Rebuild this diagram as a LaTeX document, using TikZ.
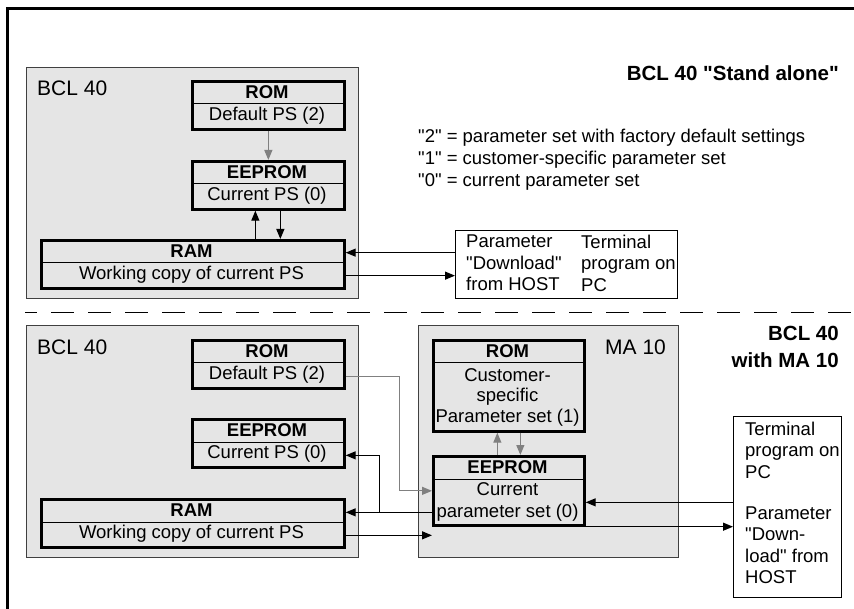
\documentclass[tikz,border=0pt]{standalone}
\usepackage{fontspec}
\setmainfont{Liberation Sans}
\newfontfamily\dgfont{Liberation Sans}
\usetikzlibrary{arrows.meta}
\tikzset{
  unit/.style={draw=black!75, line width=1.2pt, fill=gray!20, inner sep=0pt, anchor=north west},
  mem/.style={draw=black, line width=2.7pt, fill=gray!20, inner sep=0pt, anchor=north west},
  hostbox/.style={draw=black, line width=1.3pt, fill=white, inner sep=0pt, anchor=north west},
  txt/.style={font=\dgfont\fontsize{18.5}{21.5}\selectfont, inner sep=0pt},
  hdr/.style={font=\dgfont\fontsize{18.5}{21.5}\selectfont\bfseries, inner sep=0pt},
  lbl/.style={font=\dgfont\fontsize{21}{24}\selectfont, inner sep=0pt, anchor=west},
  ttl/.style={font=\dgfont\fontsize{20.5}{27}\selectfont\bfseries, inner sep=0pt, anchor=east, align=right},
  divider/.style={line width=1pt, black},
  arr/.style={line width=1.2pt, black, -{Triangle[length=10pt,width=8pt]}},
  garrow/.style={line width=1.2pt, gray, -{Triangle[length=10pt,width=8pt]}},
  dashline/.style={line width=1pt, black, dash pattern=on 23pt off 14pt, dash phase=11pt},
}
\begin{document}
\begin{tikzpicture}[x=1pt,y=-1pt]
\useasboundingbox (0,0) rectangle (854,609);
% outer frame
\draw[line width=3pt] (854,9) -- (7,9) -- (7,609);

% ================= upper part =================
\node[unit, minimum width=332pt, minimum height=231pt] (bcl1) at (26,67) {};
\node[lbl] (bcl1l) at (37,88) {BCL 40};

\node[mem, minimum width=152pt, minimum height=48pt] (rom1) at (191,80) {};
\draw[divider] (191,104) -- (343,104);
\node[hdr] (rom1h) at (267,92) {ROM};
\node[txt] (rom1t) at (267,116) {Default PS (2)};

\node[mem, minimum width=152pt, minimum height=48pt] (eep1) at (191,160) {};
\draw[divider] (191,184) -- (343,184);
\node[hdr] (eep1h) at (267,172) {EEPROM};
\node[txt] (eep1t) at (267,196) {Current PS (0)};

\node[mem, minimum width=303pt, minimum height=48pt] (ram1) at (40,239) {};
\draw[divider] (40,263) -- (343,263);
\node[hdr] (ram1h) at (191.5,251) {RAM};
\node[txt] (ram1t) at (191.5,275) {Working copy of current PS};

\node[hostbox, minimum width=222pt, minimum height=68pt] (host1) at (455,230) {};
\node[txt, anchor=west, align=left] (host1a) at (466,263) {Parameter\\"Download"\\from HOST};
\node[txt, anchor=west, align=left] (host1b) at (581,263) {Terminal\\program on\\PC};

\node[ttl] (title1) at (839,73) {BCL 40 "Stand alone"};
\node[txt, anchor=west, align=left, font=\dgfont\fontsize{18.5}{22}\selectfont] (legend) at (418,160)
  {"2" = parameter set with factory default settings\\"1" = customer-specific parameter set\\"0" = current parameter set};

% upper connectors
\draw[garrow] (rom1.south) -- (eep1.north);
\coordinate (u1) at ([xshift=-13pt]eep1.south);
\coordinate (u2) at ([xshift=12pt]eep1.south);
\draw[arr] (u1 |- ram1.north) -- (u1);
\draw[arr] (u2) -- (u2 |- ram1.north);
\coordinate (h1a) at ([yshift=12pt]host1.west);
\coordinate (h1b) at ([yshift=-11pt]host1.west);
\draw[arr] (h1a) -- (h1a -| ram1.east);
\draw[arr] (h1b -| ram1.east) -- (h1b);

% separator
\draw[dashline] (25,313) -- (854,313);

% ================= lower part =================
\node[unit, minimum width=332pt, minimum height=232pt] (bcl2) at (26,325) {};
\node[lbl] (bcl2l) at (37,347) {BCL 40};

\node[mem, minimum width=152pt, minimum height=48pt] (rom2) at (191,339) {};
\draw[divider] (191,363) -- (343,363);
\node[hdr] (rom2h) at (267,351) {ROM};
\node[txt] (rom2t) at (267,375) {Default PS (2)};

\node[mem, minimum width=152pt, minimum height=48pt] (eep2) at (191,418) {};
\draw[divider] (191,442) -- (343,442);
\node[hdr] (eep2h) at (267,430) {EEPROM};
\node[txt] (eep2t) at (267,454) {Current PS (0)};

\node[mem, minimum width=303pt, minimum height=48pt] (ram2) at (40,498) {};
\draw[divider] (40,522) -- (343,522);
\node[hdr] (ram2h) at (191.5,510) {RAM};
\node[txt] (ram2t) at (191.5,534) {Working copy of current PS};

\node[unit, minimum width=260pt, minimum height=232pt] (ma) at (418,325) {};
\node[lbl] (mal) at (605,347) {MA 10};

\node[mem, minimum width=151pt, minimum height=91pt] (mrom) at (432,339) {};
\draw[divider] (432,363) -- (583,363);
\node[hdr] (mromh) at (507.5,351) {ROM};
\node[txt, align=center, font=\dgfont\fontsize{18.5}{20.5}\selectfont] (mromt) at (507.5,397) {Customer-\\specific\\Parameter set (1)};

\node[mem, minimum width=151pt, minimum height=69pt] (meep) at (432,455) {};
\draw[divider] (432,479) -- (583,479);
\node[hdr] (meeph) at (507.5,467) {EEPROM};
\node[txt, align=center, font=\dgfont\fontsize{18.5}{22}\selectfont] (meept) at (507.5,502) {Current\\parameter set (0)};

\node[hostbox, minimum width=108pt, minimum height=181pt] (host2) at (733,416) {};
\node[txt, anchor=west, align=left] (host2a) at (745,450) {Terminal\\program on\\PC};
\node[txt, anchor=west, align=left] (host2b) at (745,545) {Parameter\\"Down-\\load" from\\HOST};

\node[ttl] (title2) at (839,346.5) {BCL 40\\with MA 10};

% lower connectors
\coordinate (g1) at ([yshift=-12pt]rom2.east);
\draw[garrow] (g1) -- ++(54,0) |- (meep.west);
\coordinate (m1) at ([xshift=-11.5pt]meep.north);
\coordinate (m2) at ([xshift=11.5pt]mrom.south);
\draw[garrow] (m1) -- (m1 |- mrom.south);
\draw[garrow] (m2) -- (m2 |- meep.north);

\coordinate (b1) at ([yshift=-21.5pt]meep.west);
\draw[arr] (b1) -- (b1 -| ram2.east);
\path (b1 -| ram2.east) ++(34,0) coordinate (jn);
\coordinate (b2) at ([yshift=-12pt]eep2.east);
\draw[arr] (jn) |- (b2);

\coordinate (r2) at ([yshift=-12pt]ram2.east);
\draw[arr] (r2) -- (r2 -| meep.west);

\coordinate (h2a) at ([yshift=-11.5pt]meep.east);
\draw[arr] (h2a -| host2.west) -- (h2a);
\draw[arr] (meep.south east) -- (meep.south east -| host2.west);
\end{tikzpicture}
\end{document}
